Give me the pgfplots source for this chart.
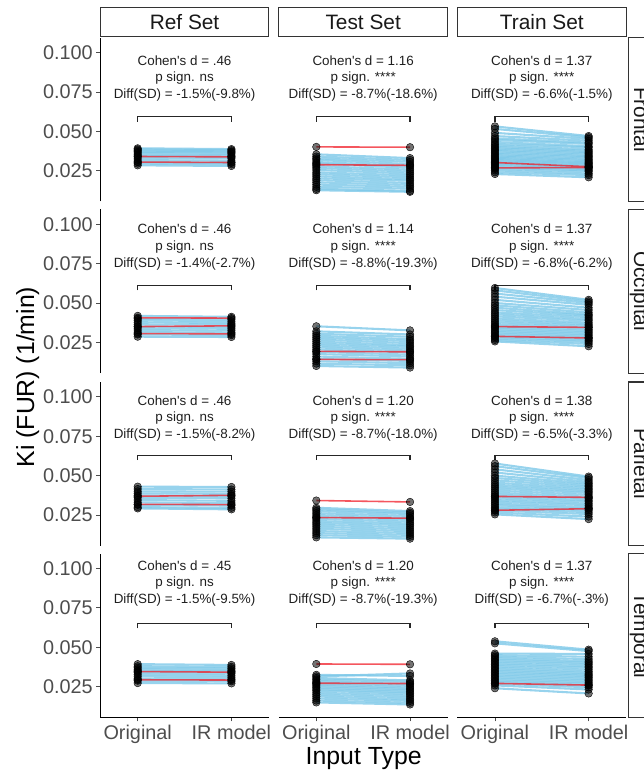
\documentclass[border=0pt]{standalone}
\usepackage{pgfplots}
\pgfplotsset{compat=1.18}
\usepackage{pgfplotstable}
\usepackage{fontspec}
\setmainfont{Liberation Sans}
\definecolor{sky}{RGB}{125,200,232}
\definecolor{redl}{RGB}{240,30,40}
\definecolor{tickgray}{RGB}{77,77,77}
\definecolor{stripgray}{RGB}{51,51,51}

% ---------------- Frontal ----------------
\pgfplotstableread{
o r
0.0392 0.0387
0.0385 0.0380
0.0378 0.0372
0.0370 0.0366
0.0362 0.0358
0.0352 0.0348
0.0343 0.0337
0.0330 0.0326
0.0318 0.0312
0.0305 0.0300
0.0295 0.0290
0.0284 0.0280
}\RefF
\pgfplotstableread{
o r
0.0340 0.0338
0.0305 0.0302
}\RefFred
\pgfplotstableread{
o r
0.0354 0.0330
0.0340 0.0318
0.0328 0.0306
0.0318 0.0292
0.0305 0.0280
0.0296 0.0268
0.0280 0.0256
0.0268 0.0244
0.0255 0.0232
0.0240 0.0220
0.0228 0.0208
0.0215 0.0196
0.0202 0.0186
0.0190 0.0172
0.0176 0.0160
0.0162 0.0148
0.0148 0.0136
0.0135 0.0122
0.0126 0.0116
}\TestF
\pgfplotstableread{
o r
0.0401 0.0399
0.0288 0.0284
}\TestFred
\pgfplotstableread{
o r
0.0531 0.0470
0.0515 0.0462
0.0490 0.0452
0.0470 0.0440
0.0455 0.0428
0.0445 0.0420
0.0432 0.0405
0.0420 0.0398
0.0410 0.0385
0.0400 0.0376
0.0392 0.0368
0.0382 0.0360
0.0375 0.0350
0.0365 0.0342
0.0356 0.0335
0.0348 0.0325
0.0340 0.0318
0.0332 0.0310
0.0325 0.0302
0.0318 0.0296
0.0310 0.0290
0.0302 0.0282
0.0295 0.0276
0.0288 0.0268
0.0280 0.0260
0.0272 0.0252
0.0262 0.0244
0.0252 0.0232
0.0240 0.0222
0.0229 0.0208
}\TrainF
\pgfplotstableread{
o r
0.0302 0.0275
0.0268 0.0270
}\TrainFred

% ---------------- Occipital ----------------
\pgfplotstableread{
o r
0.0418 0.0412
0.0400 0.0396
0.0390 0.0384
0.0378 0.0372
0.0365 0.0362
0.0352 0.0347
0.0340 0.0336
0.0328 0.0324
0.0315 0.0312
0.0300 0.0296
0.0286 0.0284
}\RefO
\pgfplotstableread{
o r
0.0406 0.0404
0.0350 0.0355
0.0306 0.0304
}\RefOred
\pgfplotstableread{
o r
0.0352 0.0326
0.0320 0.0300
0.0305 0.0285
0.0292 0.0270
0.0280 0.0258
0.0268 0.0245
0.0255 0.0232
0.0242 0.0222
0.0230 0.0210
0.0218 0.0198
0.0205 0.0186
0.0190 0.0172
0.0176 0.0160
0.0160 0.0146
0.0145 0.0132
0.0130 0.0118
0.0115 0.0104
0.0100 0.0090
}\TestO
\pgfplotstableread{
o r
0.0193 0.0190
0.0142 0.0140
}\TestOred
\pgfplotstableread{
o r
0.0595 0.0520
0.0580 0.0510
0.0560 0.0500
0.0540 0.0488
0.0520 0.0470
0.0500 0.0455
0.0485 0.0440
0.0470 0.0428
0.0455 0.0420
0.0440 0.0410
0.0428 0.0398
0.0415 0.0388
0.0402 0.0375
0.0390 0.0365
0.0378 0.0355
0.0366 0.0345
0.0355 0.0332
0.0345 0.0322
0.0335 0.0312
0.0325 0.0302
0.0315 0.0292
0.0305 0.0282
0.0295 0.0272
0.0285 0.0262
0.0275 0.0252
0.0265 0.0240
0.0256 0.0225
}\TrainO
\pgfplotstableread{
o r
0.0288 0.0278
0.0350 0.0345
}\TrainOred

% ---------------- Parietal ----------------
\pgfplotstableread{
o r
0.0430 0.0428
0.0415 0.0412
0.0400 0.0398
0.0388 0.0384
0.0375 0.0370
0.0360 0.0356
0.0345 0.0340
0.0330 0.0326
0.0315 0.0310
0.0300 0.0296
0.0292 0.0286
}\RefP
\pgfplotstableread{
o r
0.0369 0.0375
0.0318 0.0316
}\RefPred
\pgfplotstableread{
o r
0.0296 0.0275
0.0286 0.0265
0.0275 0.0256
0.0262 0.0244
0.0250 0.0232
0.0238 0.0220
0.0225 0.0208
0.0212 0.0196
0.0200 0.0185
0.0188 0.0172
0.0175 0.0160
0.0162 0.0148
0.0148 0.0136
0.0135 0.0124
0.0122 0.0112
0.0108 0.0100
}\TestP
\pgfplotstableread{
o r
0.0342 0.0333
0.0234 0.0230
}\TestPred
\pgfplotstableread{
o r
0.0577 0.0494
0.0560 0.0485
0.0540 0.0472
0.0520 0.0460
0.0500 0.0450
0.0485 0.0440
0.0470 0.0430
0.0455 0.0420
0.0442 0.0410
0.0430 0.0400
0.0418 0.0390
0.0405 0.0378
0.0392 0.0366
0.0380 0.0355
0.0368 0.0344
0.0356 0.0334
0.0345 0.0322
0.0334 0.0312
0.0322 0.0300
0.0312 0.0290
0.0300 0.0280
0.0290 0.0268
0.0278 0.0256
0.0266 0.0240
0.0254 0.0224
}\TrainP
\pgfplotstableread{
o r
0.0280 0.0290
0.0368 0.0362
}\TrainPred

% ---------------- Temporal ----------------
\pgfplotstableread{
o r
0.0393 0.0388
0.0380 0.0376
0.0370 0.0366
0.0360 0.0355
0.0350 0.0346
0.0338 0.0334
0.0326 0.0322
0.0314 0.0310
0.0300 0.0298
0.0288 0.0284
0.0273 0.0271
}\RefT
\pgfplotstableread{
o r
0.0346 0.0342
0.0294 0.0292
}\RefTred
\pgfplotstableread{
o r
0.0325 0.0318
0.0315 0.0334
0.0305 0.0290
0.0295 0.0280
0.0285 0.0266
0.0275 0.0255
0.0265 0.0244
0.0255 0.0235
0.0245 0.0225
0.0235 0.0215
0.0225 0.0205
0.0212 0.0194
0.0200 0.0182
0.0188 0.0170
0.0175 0.0160
0.0162 0.0148
0.0150 0.0137
}\TestT
\pgfplotstableread{
o r
0.0394 0.0392
0.0272 0.0270
}\TestTred
\pgfplotstableread{
o r
0.0538 0.0485
0.0525 0.0476
0.0460 0.0458
0.0450 0.0440
0.0440 0.0425
0.0430 0.0412
0.0420 0.0402
0.0410 0.0392
0.0400 0.0380
0.0390 0.0370
0.0380 0.0358
0.0370 0.0346
0.0360 0.0336
0.0350 0.0326
0.0340 0.0318
0.0330 0.0308
0.0320 0.0298
0.0310 0.0288
0.0300 0.0278
0.0290 0.0268
0.0280 0.0258
0.0270 0.0246
0.0258 0.0232
0.0240 0.0207
}\TrainT
\pgfplotstableread{
o r
0.0271 0.0260
}\TrainTred

\pgfplotsset{
  base/.style={scale only axis, width=170pt, height=165pt, anchor=north west,
    xmin=0.6, xmax=2.4, ymin=0.0055, ymax=0.1094,
    axis x line*=bottom, axis y line*=left,
    axis line style={-, black, line width=0.9pt},
    tick align=outside, major tick length=4pt,
    tick style={tickgray, line width=0.8pt},
    xtick={1,2}, xticklabels={Original,IR model},
    ytick={0.025,0.05,0.075,0.1}, yticklabels={0.025,0.050,0.075,0.100},
    scaled y ticks=false,
    ticklabel style={font=\fontsize{20}{24}\selectfont, text=tickgray},
    clip=false},
  pts/.style={only marks, mark=*, mark size=3.8pt,
    mark options={fill=black, draw=none, fill opacity=0.55}},
}
\tikzset{ann/.style={font=\fontsize{13.5}{15}\selectfont, text=black!88, inner sep=0pt}}

% #1 x-left, #2 extra options, #3 blue table, #4 red table, #5 cohen, #6 p, #7 diff
\newcommand{\panel}[7]{%
\begin{axis}[base, at={(#1,\rowtop)}, #2]
\addplot[sky, quiver={u=1, v={\thisrow{r}-\thisrow{o}},
   every arrow/.append style={draw=sky, line width=2.1pt, draw opacity=0.8}}]
   table[x expr=1, y=o] {#3};
\addplot[redl, quiver={u=1, v={\thisrow{r}-\thisrow{o}},
   every arrow/.append style={draw=redl, line width=1.6pt, draw opacity=0.75}}]
   table[x expr=1, y=o] {#4};
\addplot[pts] table[x expr=1, y=o] {#3};
\addplot[pts] table[x expr=2, y=r] {#3};
\addplot[pts] table[x expr=1, y=o] {#4};
\addplot[pts] table[x expr=2, y=r] {#4};
\addplot[black!85, line width=1.4pt] coordinates {(1,\ybrl) (1,\ybr) (2,\ybr) (2,\ybrl)};
\node[ann] at (axis cs:1.5,\yc) {#5};
\node[ann] at (axis cs:1.5,\yp) {#6};
\node[ann] at (axis cs:1.5,\yd) {#7};
\end{axis}}

\begin{document}
\begin{tikzpicture}
\path (0,0) rectangle (649pt,773pt);

% ---- row 1: Frontal
\def\rowtop{735pt}\def\ybr{0.0592}\def\ybrl{0.0561}
\def\yc{0.0948}\def\yp{0.0838}\def\yd{0.0729}
\panel{101pt}{hide x axis}{\RefF}{\RefFred}{Cohen\textquotesingle s d = .46}{p sign. ns}{Diff(SD) = -1.5\%(-9.8\%)}
\panel{281pt}{hide x axis, hide y axis}{\TestF}{\TestFred}{Cohen\textquotesingle s d = 1.16}{p sign. ****}{Diff(SD) = -8.7\%(-18.6\%)}
\panel{461pt}{hide x axis, hide y axis}{\TrainF}{\TrainFred}{Cohen\textquotesingle s d = 1.37}{p sign. ****}{Diff(SD) = -6.6\%(-1.5\%)}

% ---- row 2: Occipital
\def\rowtop{562pt}\def\ybr{0.0610}\def\ybrl{0.0580}
\def\yc{0.0973}\def\yp{0.0857}\def\yd{0.0744}
\panel{101pt}{hide x axis}{\RefO}{\RefOred}{Cohen\textquotesingle s d = .46}{p sign. ns}{Diff(SD) = -1.4\%(-2.7\%)}
\panel{281pt}{hide x axis, hide y axis}{\TestO}{\TestOred}{Cohen\textquotesingle s d = 1.14}{p sign. ****}{Diff(SD) = -8.8\%(-19.3\%)}
\panel{461pt}{hide x axis, hide y axis}{\TrainO}{\TrainOred}{Cohen\textquotesingle s d = 1.37}{p sign. ****}{Diff(SD) = -6.8\%(-6.2\%)}

% ---- row 3: Parietal
\def\rowtop{388pt}\def\ybr{0.0629}\def\ybrl{0.0598}
\def\yc{0.0975}\def\yp{0.0868}\def\yd{0.0755}
\panel{101pt}{hide x axis}{\RefP}{\RefPred}{Cohen\textquotesingle s d = .46}{p sign. ns}{Diff(SD) = -1.5\%(-8.2\%)}
\panel{281pt}{hide x axis, hide y axis}{\TestP}{\TestPred}{Cohen\textquotesingle s d = 1.20}{p sign. ****}{Diff(SD) = -8.7\%(-18.0\%)}
\panel{461pt}{hide x axis, hide y axis}{\TrainP}{\TrainPred}{Cohen\textquotesingle s d = 1.38}{p sign. ****}{Diff(SD) = -6.5\%(-3.3\%)}

% ---- row 4: Temporal
\def\rowtop{215pt}\def\ybr{0.0650}\def\ybrl{0.0620}
\def\yc{0.1020}\def\yp{0.0908}\def\yd{0.0797}
\panel{101pt}{}{\RefT}{\RefTred}{Cohen\textquotesingle s d = .45}{p sign. ns}{Diff(SD) = -1.5\%(-9.5\%)}
\panel{281pt}{hide y axis}{\TestT}{\TestTred}{Cohen\textquotesingle s d = 1.20}{p sign. ****}{Diff(SD) = -8.7\%(-19.3\%)}
\panel{461pt}{hide y axis}{\TrainT}{\TrainTred}{Cohen\textquotesingle s d = 1.37}{p sign. ****}{Diff(SD) = -6.7\%(-.3\%)}

% ---- top strips
\begin{scope}[every node/.style={font=\fontsize{21}{24}\selectfont, text=black!90}]
\draw[stripgray, line width=1.1pt, fill=white] (101pt,736pt) rectangle (271pt,765pt);
\node at (186pt,750.5pt) {Ref Set};
\draw[stripgray, line width=1.1pt, fill=white] (281pt,736pt) rectangle (451pt,765pt);
\node at (366pt,750.5pt) {Test Set};
\draw[stripgray, line width=1.1pt, fill=white] (461pt,736pt) rectangle (631pt,765pt);
\node at (546pt,750.5pt) {Train Set};
\end{scope}
% ---- right strips (cut by the page edge, as in the reference)
\begin{scope}[overlay, every node/.style={font=\fontsize{21}{24}\selectfont, text=black!90}]
\draw[stripgray, line width=1.1pt, fill=white] (633pt,735pt) rectangle (664pt,570pt);
\node[rotate=-90, anchor=base] at (639pt,652.5pt) {Frontal};
\draw[stripgray, line width=1.1pt, fill=white] (633pt,562pt) rectangle (664pt,397pt);
\node[rotate=-90, anchor=base] at (639pt,479.5pt) {Occipital};
\draw[stripgray, line width=1.1pt, fill=white] (633pt,388pt) rectangle (664pt,223pt);
\node[rotate=-90, anchor=base] at (639pt,305.5pt) {Parietal};
\draw[stripgray, line width=1.1pt, fill=white] (633pt,215pt) rectangle (664pt,50pt);
\node[rotate=-90, anchor=base] at (639pt,132.5pt) {Temporal};
\end{scope}

% ---- axis titles
\node[rotate=90, font=\fontsize{25}{28}\selectfont] at (28pt,393pt) {Ki (FUR) (1/min)};
\node[anchor=base, font=\fontsize{25}{28}\selectfont] at (366.5pt,2.5pt) {Input Type};
\end{tikzpicture}
\end{document}
